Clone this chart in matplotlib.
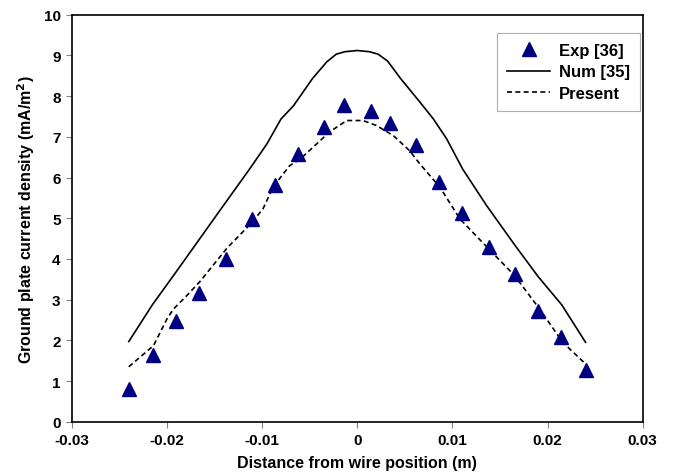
import matplotlib
matplotlib.use("Agg")
import matplotlib.pyplot as plt
from matplotlib.lines import Line2D

plt.rcParams['font.family'] = ['Liberation Sans', 'DejaVu Sans']
plt.rcParams['font.weight'] = 'bold'

# Experimental data (Exp [36])
exp_x = [-0.0240, -0.0215, -0.0190, -0.0166, -0.0138, -0.0111, -0.0086, -0.0062, -0.0035, -0.0014,
         0.0014, 0.0034, 0.0062, 0.0086, 0.0110, 0.0138, 0.0166, 0.0190, 0.0214, 0.0240]
exp_y = [0.80, 1.64, 2.48, 3.16, 4.00, 4.98, 5.81, 6.58, 7.25, 7.78,
         7.63, 7.34, 6.80, 5.89, 5.13, 4.30, 3.62, 2.72, 2.08, 1.27]

# Numerical (Num [35])
num_x = [-0.0240, -0.0215, -0.0190, -0.0165, -0.0140, -0.0113, -0.0095, -0.0080, -0.0067, -0.0047,
         -0.0032, -0.0022, -0.0013, 0.0, 0.0013, 0.0022, 0.0032, 0.0045, 0.0066, 0.0080,
         0.0094, 0.0111, 0.0136, 0.0165, 0.0190, 0.0215, 0.0240]
num_y = [1.97, 2.88, 3.69, 4.51, 5.33, 6.21, 6.82, 7.44, 7.76, 8.43,
         8.84, 9.03, 9.09, 9.12, 9.09, 9.03, 8.86, 8.45, 7.85, 7.44,
         6.95, 6.20, 5.31, 4.36, 3.57, 2.87, 1.95]

# Present
pre_x = [-0.0240, -0.0214, -0.0200, -0.0193, -0.0179, -0.0165, -0.0137, -0.0112, -0.0099, -0.0088,
         -0.0071, -0.0060, -0.0029, -0.0011, 0.0006, 0.0020, 0.0038, 0.0055, 0.0066, 0.0087,
         0.0108, 0.0136, 0.0165, 0.0192, 0.0216, 0.0240]
pre_y = [1.35, 1.87, 2.52, 2.77, 3.10, 3.45, 4.26, 4.86, 5.23, 5.78,
         6.29, 6.45, 7.12, 7.40, 7.40, 7.28, 7.03, 6.66, 6.33, 5.76,
         4.98, 4.30, 3.60, 2.76, 1.95, 1.42]

x_ticks = [-0.03, -0.02, -0.01, 0, 0.01, 0.02, 0.03]
x_ticklabels = ['-0.03', '-0.02', '-0.01', '0', '0.01', '0.02', '0.03']
y_ticks = list(range(0, 11))

fig = plt.figure(figsize=(6.77, 4.77), dpi=100)
ax = fig.add_axes([0.1059, 0.1138, 0.8434, 0.8533])

ax.plot(num_x, num_y, color='black', lw=1.2, label='Num [35]')
ax.plot(pre_x, pre_y, color='black', lw=1.2, linestyle=(0, (3, 2)), label='Present')
ax.plot(exp_x, exp_y, linestyle='none', marker='^', ms=9.5, color='#000080',
        markeredgecolor='#000080', label='Exp [36]')

ax.set_xlim(-0.03, 0.03)
ax.set_ylim(0, 10)
ax.set_xticks(x_ticks)
ax.set_xticklabels(x_ticklabels)
ax.set_yticks(y_ticks)
ax.tick_params(direction='out', length=4, width=0.8, color='#808080', labelsize=11, pad=4)
for lbl in ax.get_xticklabels() + ax.get_yticklabels():
    lbl.set_fontweight('bold')
for s in ax.spines.values():
    s.set_linewidth(1.2)
    s.set_color('black')

ax.set_xlabel('Distance from wire position (m)', fontsize=11.5, fontweight='bold', labelpad=6)
ax.set_ylabel('Ground plate current density (mA/m$^\\mathbf{2}$)', fontsize=11.5, fontweight='bold', labelpad=5)

handles = [
    Line2D([], [], linestyle='none', marker='^', ms=9.5, color='#000080'),
    Line2D([], [], color='black', lw=1.2),
    Line2D([], [], color='black', lw=1.2, linestyle=(0, (3, 2))),
]
leg = ax.legend(handles, ['Exp [36]', 'Num [35]', 'Present'], loc='upper right',
                bbox_to_anchor=(0.995, 0.955), borderaxespad=0, fancybox=False,
                frameon=True, prop={'weight': 'bold', 'size': 12},
                handlelength=2.6, handletextpad=0.5, labelspacing=0.38, borderpad=0.6)
leg.get_frame().set_edgecolor('#999999')
leg.get_frame().set_linewidth(0.8)

fig.savefig('out.png', dpi=100)
